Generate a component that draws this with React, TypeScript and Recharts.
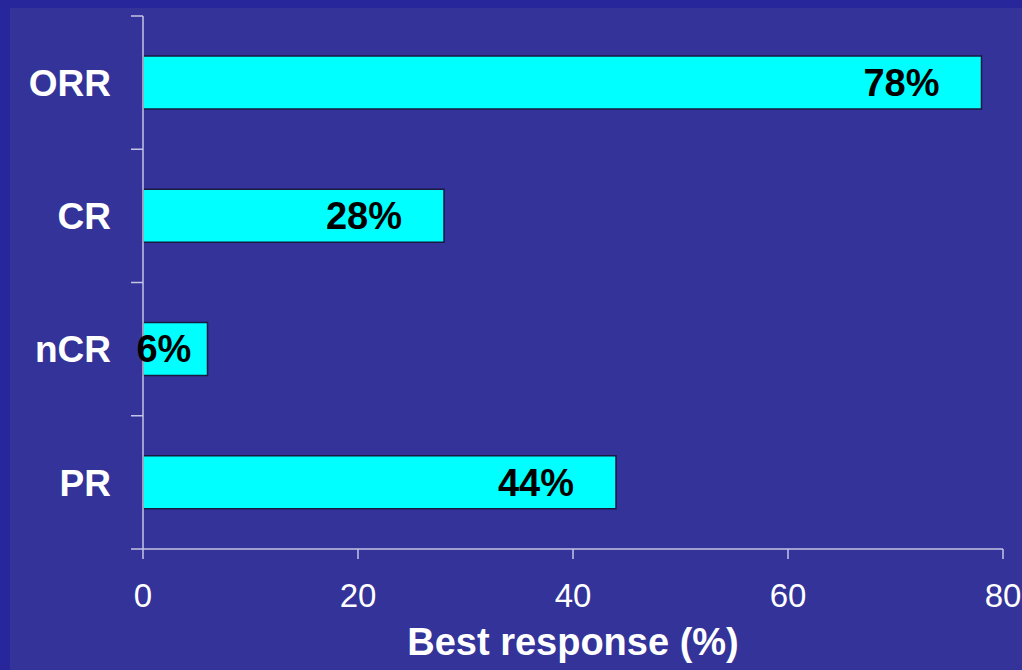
import { BarChart, Bar, XAxis, YAxis, LabelList } from 'recharts'

const categories = ['ORR', 'CR', 'nCR', 'PR']
const responseValues = [78, 28, 6, 44]
const xTicks = [0, 20, 40, 60, 80]

const chartData = categories.map((name, i) => ({ name, value: responseValues[i] }))

const FONT = '"Liberation Sans", Arial, sans-serif'
const AXIS_COLOR = '#c4c4e6'
const TICK_SIZE = 12
const TICK_MARGIN = 20

// category label + boundary tick marks (ticks sit between bands, not at centres)
const CategoryTick = (props: any) => {
  const { x, y, payload, index, visibleTicksCount } = props
  const axisX = x + TICK_SIZE + TICK_MARGIN
  const half = payload?.offset ?? 0
  const isLast = index === visibleTicksCount - 1
  return (
    <g>
      <line x1={axisX - TICK_SIZE} x2={axisX} y1={y - half} y2={y - half} stroke={AXIS_COLOR} strokeWidth={1.5} />
      {isLast && (
        <line x1={axisX - TICK_SIZE} x2={axisX} y1={y + half} y2={y + half} stroke={AXIS_COLOR} strokeWidth={1.5} />
      )}
      <text x={x} y={y} dy="0.355em" textAnchor="end" fill="#ffffff" fontSize={37} fontWeight={700} fontFamily={FONT}>
        {payload.value}
      </text>
    </g>
  )
}

const ValueLabel = (props: any) => {
  const { x, y, width, height, value } = props
  const gap = Math.min(42, width * 0.25)
  return (
    <text
      x={x + width - gap}
      y={y + height / 2}
      dy="0.355em"
      textAnchor="end"
      fill="#000000"
      fontSize={38}
      fontWeight={700}
      fontFamily={FONT}
    >
      {`${value}%`}
    </text>
  )
}

export default function App() {
  return (
    <div style={{ position: 'absolute', left: 0, top: 0, width: 1022, height: 670, background: '#27279b' }}>
      <div style={{ position: 'absolute', left: 10, top: 8, right: 0, bottom: 0, background: '#333399' }} />
      <div style={{ position: 'absolute', left: 0, top: 0 }}>
        <BarChart
          width={1022}
          height={670}
          data={chartData}
          layout="vertical"
          margin={{ top: 16, right: 19, left: 0, bottom: 0 }}
        >
          <XAxis
            type="number"
            domain={[0, 80]}
            ticks={xTicks}
            height={121}
            tickSize={10}
            tickMargin={25}
            axisLine={{ stroke: AXIS_COLOR, strokeWidth: 1.5 }}
            tickLine={{ stroke: AXIS_COLOR, strokeWidth: 1.5 }}
            tick={{ fill: '#ffffff', fontSize: 33, fontFamily: FONT }}
            label={{
              value: 'Best response (%)',
              position: 'insideBottom',
              offset: 15,
              fill: '#ffffff',
              fontSize: 38,
              fontWeight: 700,
              fontFamily: FONT,
            }}
          />
          <YAxis
            type="category"
            dataKey="name"
            width={143}
            tickSize={TICK_SIZE}
            tickMargin={TICK_MARGIN}
            tickLine={false}
            axisLine={{ stroke: AXIS_COLOR, strokeWidth: 1.5 }}
            tick={<CategoryTick />}
          />
          <Bar dataKey="value" fill="#00ffff" stroke="#1a1a40" strokeWidth={1.5} barSize={53} isAnimationActive={false}>
            <LabelList dataKey="value" content={<ValueLabel />} />
          </Bar>
        </BarChart>
      </div>
    </div>
  )
}
